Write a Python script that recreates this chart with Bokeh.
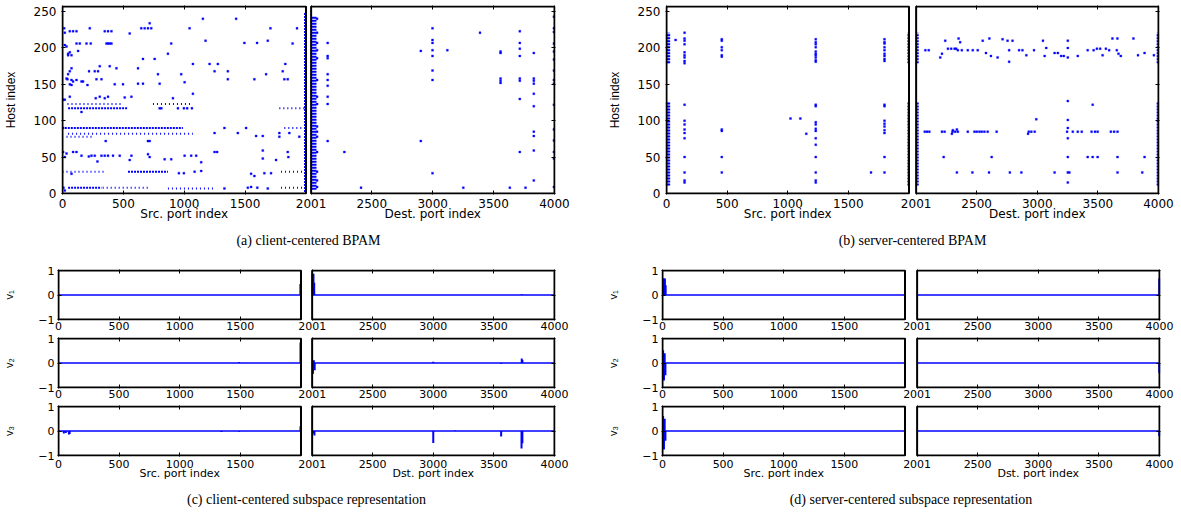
from bokeh.plotting import figure
from bokeh.models import Range1d, FixedTicker, LinearAxis, BoxAnnotation, Title
from bokeh.layouts import column, row
from bokeh.embed import file_html
from bokeh.resources import INLINE

BLUE = "#0000ff"
TICK_FONT = "DejaVu Sans"
LABEL_FONT = "Liberation Sans"
CAP_FONT = "Liberation Serif"

SRC_TICKS = [0, 500, 1000, 1500]
DST_TICKS = [2001, 2500, 3000, 3500, 4000]
HOST_TICKS = [0, 50, 100, 150, 200, 250]
V_TICKS = [-1, 0, 1]

CAPTIONS = ["(a) client-centered BPAM", "(b) server-centered BPAM",
            "(c) client-centered subspace representation",
            "(d) server-centered subspace representation"]
SRC_LABEL = "Src. port index"
DEST_LABEL_TOP = "Dest. port index"
DST_LABEL_BOTTOM = "Dst. port index"
HOST_LABEL = "Host index"
V_LABELS = ["v\u2081", "v\u2082", "v\u2083"]

# ---------------- (a) client-centered BPAM ----------------
A_SRC_PTS = [(716,234),(1153,240),(1426,240),(552,220),(14,227),(19,221),(60,223),(87,223),(115,223),
             (224,227),(347,223),(374,223),(402,223),(647,227),(675,227),(702,227),(729,227),(1044,227),
             (1708,227),(1926,227),(1175,210),(1494,207),(1598,207),(1686,210),(1890,206),(19,204),(33,202),
             (115,206),(142,206),(197,206),(232,206),(361,206),(374,206),(388,206),(402,206),(893,206),
             (46,192),(60,194),(74,190),(128,196),(866,192),(46,190),(661,185),(757,185),(1071,178),
             (1208,178),(1276,178),(1830,178),(306,175),(388,175),(443,172),(620,172),(74,172),(218,168),
             (265,168),(292,168),(1249,168),(1358,168),(1672,164),(1809,168),(784,164),(975,164),(46,164),
             (60,168),(33,158),(41,157),(74,156),(87,154),(115,156),(156,154),(169,154),(279,157),(320,157),
             (1358,157),(1576,157),(1822,157),(1850,157),(60,150),(74,149),(205,149),(429,150),(497,150),
             (661,151),(620,151),(798,151),(1003,153),(19,129),(60,133),(273,131),(306,133),(347,131),
             (374,133),(511,132),(566,133),(1071,137),(907,131),(156,112),(798,117),(812,117),(948,117),
             (997,117),(1024,117),(1063,117),(1330,90),(1508,90),(355,72),(702,72),(716,72),(1249,83),
             (1440,83),(1590,79),(1645,79),(1781,83),(1781,78),(1863,83),(1945,78),(87,57),(115,57),
             (156,52),(216,51),(238,52),(265,52),(320,52),(347,52),(374,52),(415,52),(470,52),(287,44),
             (566,52),(552,46),(702,54),(716,50),(839,47),(893,47),(1003,52),(1057,52),(1098,52),(1139,43),
             (1249,57),(1270,57),(1645,59),(1645,48),(1754,46),(1850,57),(1855,50),(19,50),(33,55),(956,28),
             (997,28),(1085,30),(1139,31),(1549,27),(1658,28),(1713,28),(74,27),(1330,7),(1522,8),(1686,7),
             (8,8),(19,4),(5,90),(5,57),(5,129),(1576,24),(1549,9),(1600,8)]
A_SRC_RUNS_DENSE = [(46,533,117),(19,989,90),(538,866,30),(46,320,8)]
A_SRC_RUNS_SPARSE = [(1781,2000,117),(1822,2000,90),(46,1071,82),(33,251,78),(0,360,30),(1795,2000,30),
                     (866,1249,7),(1795,2000,8),(41,497,123),(743,1057,123),(330,700,8)]
A_SRC_COLS = [(1994,2,248)]
A_DST_COLS = [(2015,5,243),(2035,5,243)]
A_DST_PTS = [(2137,207),(2137,189),(2137,186),(2137,164),(2137,156),(2137,148),(2137,133),(2137,123),(2137,72),
             (2274,57),(2411,8),(2902,196),(2902,72),
             (2998,227),(2998,211),(2998,207),(2998,197),(2998,189),(2998,169),(2998,156),(2998,28),
             (3120,197),(3251,8),(3388,221),(3557,193),(3557,195),(3557,158),(3557,155),(3557,152),(3633,8),
             (3715,223),(3715,207),(3715,199),(3715,189),(3715,158),(3715,155),(3715,130),(3715,57),(3762,8),
             (3830,193),(3830,158),(3830,155),(3830,151),(3830,137),(3830,120),(3830,85),(3830,79),(3830,59),(3830,18),
             (3995,243),(3995,227),(3995,222),(3995,206),(3995,195),(3995,184),(3995,169),(3995,156),(3995,151),
             (3995,122),(3995,88),(3995,73),(3995,57),(3995,48),(3995,9),
             (2050,240),(2050,221),(2050,207),(2050,197),(2050,186),(2050,156),(2050,133),(2050,123),(2050,92),
             (2050,85),(2050,78),(2050,57),(2050,30),(2050,18),(2050,9)]

# ---------------- (b) server-centered BPAM ----------------
B_SRC_COLS = [(5,179,221),(5,11,126),(20,179,221),(20,11,126),(1997,179,221),(1997,11,126)]
B_SRC_PTS = ([(149,y) for y in [221,213,210,205,194,190,187,182,179,122,100,95,88,83,76,50,29,18,15]] +
             [(75,211)] +
             [(456,y) for y in [212,210,201,197,190,188,88,86,50,29]] +
             [(1023,103),(1104,103),(1153,82),(1687,29)] +
             [(1231,y) for y in [212,208,205,201,195,192,190,187,183,181,122,120,98,95,89,86,76,67,50,29,18,15]] +
             [(1798,y) for y in [212,208,206,201,197,192,189,185,182,122,120,100,96,92,87,83,50,29]])
B_DST_COLS = [(2012,179,221),(2012,11,126),(3995,179,221),(3995,11,126)]
B_DST_PTS = [(2077,197),(2105,197),(2200,187),(2214,192),(2241,210),(2263,199),(2290,199),(2318,199),(2331,199),
             (2345,197),(2351,213),(2364,208),(2378,197),(2427,197),(2468,197),(2509,197),(2550,210),(2577,193),
             (2605,213),(2618,189),(2673,187),(2714,212),(2755,210),(2768,197),(2768,181),(2796,210),(2850,197),
             (2878,197),(2910,190),(2973,197),(3047,210),(3061,189),(3074,200),(3143,193),(3170,193),(3197,189),
             (3219,189),(3252,210),(3252,200),(3252,187),(3334,189),(3416,197),(3465,197),(3492,199),(3519,199),
             (3539,190),(3566,199),(3593,197),(3620,213),(3661,213),(3656,197),(3670,192),(3689,189),(3793,213),
             (3831,190),(3885,193),(3962,190),
             (2072,85),(2091,85),(2110,85),(2214,85),(2236,85),(2301,85),(2323,85),(2345,85),(2427,85),(2482,85),
             (2501,85),(2523,85),(2542,85),(2564,85),(2591,85),(2665,85),(2930,85),(2951,85),(2979,85),(3246,85),
             (3293,85),(3334,85),(3367,85),(3448,85),(3476,85),(3498,85),(3607,85),(3634,85),(3662,85),
             (2304,87),(2337,88),(2992,102),(3457,122),(3252,127),(3252,101),(3252,90),(3252,76),(2924,82),(2296,82),
             (2228,50),(2624,50),(3252,50),(3416,50),(3457,50),(3498,50),(3662,50),(3885,50),
             (2337,29),(2465,29),(2602,29),(2774,29),(2869,29),(3143,29),(3252,29),(3265,29),(3662,29),(3866,29),
             (3252,15)]

# ---------------- (c)/(d) subspace vectors: spikes (port, value) ----------------
C_SRC_SPIKES = [[(1995,0.45)],
                [(1490,0.04),(1996,0.84)],
                [(44,-0.10),(60,-0.08),(86,-0.14),(92,-0.12),(1344,-0.04),(1490,-0.03),(1996,0.19)]]
C_DST_SPIKES = [[(2005,0.87),(2012,0.87),(2018,0.50),(3730,0.03)],
                [(2008,-0.44),(2015,0.11),(2022,-0.30),(3000,0.05),(3560,-0.03),(3730,0.18),(3735,0.12)],
                [(2008,-0.10),(2020,-0.18),(3000,-0.49),(3180,0.02),(3560,-0.22),(3728,-0.71),(3735,-0.50)]]
D_SRC_SPIKES = [[(5,0.67),(12,0.67),(20,0.67),(26,0.40)],
                [(5,0.52),(12,-0.71),(18,0.40),(24,-0.50)],
                [(5,0.61),(12,-0.75),(18,0.50),(24,-0.40)]]
D_DST_SPIKES = [[(3998,0.67)],
                [(3998,-0.40)],
                [(2005,0.02),(3998,-0.20)]]
BASE_SRC = [1, 2000]
BASE_DST = [2001, 4000]


def pair_figure(left, fw, right, top, fh, bottom, g, ylo, yhi, yticks, ylabel,
                tick_size, ylab_standoff, xlab_standoff, ylabel_standoff_ticks,
                names=None, line_height=1.2, yover=None, ylab_size="11px"):
    # frame is widened by 1px on each side so the panel boxes are fully visible
    ux = (4000 + g) / fw
    uy = (yhi - ylo) / fh
    p = figure(width=left + fw + right, height=top + fh + bottom,
               x_range=Range1d(-ux, 4000 + g + ux), y_range=Range1d(ylo - uy, yhi + uy),
               output_backend="svg", toolbar_location=None,
               x_axis_location=None, y_axis_location=None,
               min_border_left=left - 1, min_border_right=right - 1,
               min_border_top=top - 1, min_border_bottom=bottom - 1)
    p.outline_line_color = None
    p.background_fill_color = "white"
    p.border_fill_color = "white"
    p.grid.visible = False
    xt = SRC_TICKS + [t + g for t in DST_TICKS]
    over = {t + g: str(t) for t in DST_TICKS}
    if names:
        over[1000] = "1000\n" + names[0]
        over[3000 + g] = "3000\n" + names[1]
    common = dict(axis_line_color=None, major_tick_in=4, major_tick_out=0,
                  minor_tick_line_color=None, major_tick_line_color="black")
    xa = LinearAxis(ticker=FixedTicker(ticks=xt), major_label_overrides=over,
                    major_label_standoff=xlab_standoff,
                    major_label_text_font=TICK_FONT, major_label_text_font_size=tick_size,
                    major_label_text_line_height=line_height,
                    major_label_text_color="black", **common)
    p.add_layout(xa, "below")
    hidden = dict(major_label_text_font_size="1px", major_label_text_color=None, major_label_standoff=0)
    p.add_layout(LinearAxis(ticker=FixedTicker(ticks=xt), **hidden, **common), "above")
    ya = LinearAxis(ticker=FixedTicker(ticks=yticks), major_label_standoff=ylabel_standoff_ticks,
                    major_label_text_font=TICK_FONT, major_label_text_font_size=tick_size,
                    major_label_text_color="black",
                    axis_label=ylabel, axis_label_standoff=ylab_standoff,
                    axis_label_text_font=LABEL_FONT, axis_label_text_font_size=ylab_size,
                    axis_label_text_font_style="normal", axis_label_text_color="black", **common)
    if yover:
        ya.major_label_overrides = yover
    p.add_layout(ya, "left")
    p.add_layout(LinearAxis(ticker=FixedTicker(ticks=yticks), **hidden, **common), "right")
    for l, r in [(0, 2000), (2001 + g, 4000 + g)]:
        p.add_layout(BoxAnnotation(left=l, right=r, bottom=ylo, top=yhi, fill_color=None,
                                   fill_alpha=0, line_color="black", line_alpha=1.0, line_width=2))
    return p


def add_caption(p, text, standoff, offset):
    p.add_layout(Title(text=text, align="center", text_font=CAP_FONT, text_font_size="14px",
                       text_font_style="normal", text_color="black", standoff=standoff, offset=offset),
                 "below")


def add_points(p, pts, g=0):
    if pts:
        p.scatter([x + g for x, _ in pts], [y for _, y in pts], marker="square", size=2,
                  fill_color=BLUE, line_color=BLUE, line_width=0.3)


def add_runs(p, runs, dash):
    p.segment([r[0] for r in runs], [r[2] for r in runs], [r[1] for r in runs], [r[2] for r in runs],
              line_color=BLUE, line_width=2, line_dash=dash)


def add_cols(p, cols, g=0):
    p.segment([c[0] + g for c in cols], [c[1] for c in cols], [c[0] + g for c in cols], [c[2] for c in cols],
              line_color=BLUE, line_width=2.5, line_dash="2 1")


# ---------- top row ----------
GA, GB = 41, 58
pa = pair_figure(61, 493, 18, 6, 187, 72, GA, 0, 257, HOST_TICKS, HOST_LABEL, "12px", 13, 2, 5,
                 names=(SRC_LABEL, DEST_LABEL_TOP), line_height=0.78, ylab_size="12px")
add_runs(pa, A_SRC_RUNS_DENSE, "2 1")
add_runs(pa, A_SRC_RUNS_SPARSE, "1 3")
add_cols(pa, A_SRC_COLS)
add_cols(pa, A_DST_COLS, GA)
add_points(pa, A_SRC_PTS)
add_points(pa, A_DST_PTS, GA)
add_caption(pa, CAPTIONS[0], 13, -1)

pb = pair_figure(94, 492, 23, 6, 187, 72, GB, 0, 257, HOST_TICKS, HOST_LABEL, "12px", 13, 2, 5,
                 names=(SRC_LABEL, DEST_LABEL_TOP), line_height=0.78, ylab_size="12px")
add_cols(pb, B_SRC_COLS)
add_cols(pb, B_DST_COLS, GB)
add_points(pb, B_SRC_PTS)
add_points(pb, B_DST_PTS, GB)
add_caption(pb, CAPTIONS[1], 13, -1)

# ---------- bottom rows ----------
GC, GD = 91, 99
rows = []
for i in range(3):
    bottom = 58 if i == 2 else 14
    names_c = (SRC_LABEL, DST_LABEL_BOTTOM) if i == 2 else None
    pc = pair_figure(58, 496, 15, 5, 49, bottom, GC, -1, 1, V_TICKS, V_LABELS[i], "11px", 20, 1, 3,
                     names=names_c, line_height=0.75, yover={-1: "\u22121"})
    pd = pair_figure(93, 497, 22, 5, 49, bottom, GD, -1, 1, V_TICKS, V_LABELS[i], "11px", 20, 1, 3,
                     names=names_c, line_height=0.75, yover={-1: "\u22121"})
    for p, g, ss, ds in [(pc, GC, C_SRC_SPIKES[i], C_DST_SPIKES[i]), (pd, GD, D_SRC_SPIKES[i], D_DST_SPIKES[i])]:
        p.line(BASE_SRC, [0, 0], line_color=BLUE, line_width=1.5)
        p.line([x + g for x in BASE_DST], [0, 0], line_color=BLUE, line_width=1.5)
        p.segment([x for x, _ in ss], [0] * len(ss), [x for x, _ in ss], [v for _, v in ss],
                  line_color=BLUE, line_width=2)
        p.segment([x + g for x, _ in ds], [0] * len(ds), [x + g for x, _ in ds], [v for _, v in ds],
                  line_color=BLUE, line_width=2)
    if i == 2:
        add_caption(pc, CAPTIONS[2], 12, -11)
        add_caption(pd, CAPTIONS[3], 12, -10)
    rows.append(row(pc, pd))

layout = column(row(pa, pb), *rows)
open("out.html", "w").write(file_html(layout, INLINE))
